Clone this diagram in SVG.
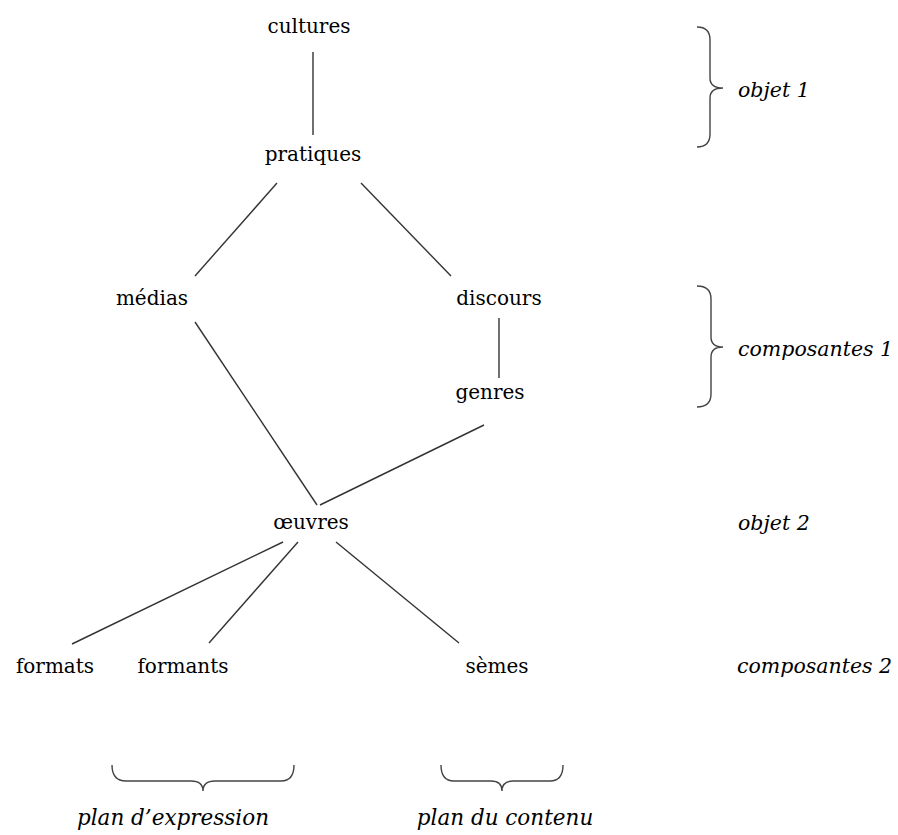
<svg xmlns="http://www.w3.org/2000/svg" width="898" height="835" viewBox="0 0 898 835">
<style>
.n{font-family:"DejaVu Serif","Liberation Serif",serif;font-size:20px;fill:#000;text-anchor:middle}
.l{font-family:"DejaVu Serif","Liberation Serif",serif;font-size:20.5px;font-style:italic;fill:#000}
.p{font-family:"DejaVu Serif","Liberation Serif",serif;font-size:21.5px;font-style:italic;fill:#000;text-anchor:middle}
.c{stroke:#333;stroke-width:1.4;fill:none}
.b{stroke:#444;stroke-width:1.4;fill:none}
</style>
<rect width="898" height="835" fill="#fff"/>
<g id="connectors">
<line class="c" x1="313" y1="52" x2="313" y2="135"/>
<line class="c" x1="277" y1="183" x2="195" y2="276"/>
<line class="c" x1="361" y1="183" x2="451" y2="276"/>
<line class="c" x1="499" y1="318" x2="499" y2="378"/>
<line class="c" x1="195" y1="322" x2="317" y2="505"/>
<line class="c" x1="484" y1="425" x2="320" y2="505"/>
<line class="c" x1="283" y1="542" x2="72" y2="644"/>
<line class="c" x1="298" y1="542" x2="209" y2="643"/>
<line class="c" x1="336" y1="542" x2="459" y2="643"/>
</g>
<g id="cultures"><text class="n" x="309" y="33">cultures</text></g>
<g id="pratiques"><text class="n" x="313" y="161">pratiques</text></g>
<g id="medias"><text class="n" x="152" y="305">médias</text></g>
<g id="discours"><text class="n" x="499" y="305">discours</text></g>
<g id="genres"><text class="n" x="490" y="399">genres</text></g>
<g id="oeuvres"><text class="n" x="311" y="529">œuvres</text></g>
<g id="formats"><text class="n" x="55" y="673">formats</text></g>
<g id="formants"><text class="n" x="183" y="673">formants</text></g>
<g id="semes"><text class="n" x="497" y="673">sèmes</text></g>
<g id="brace-objet1">
<path class="b" d="M697,27 Q710,27 710,40 L710,78 Q710,88 723,88 Q710,88 710,98 L710,134 Q710,147 697,147"/>
<text class="l" x="738" y="97">objet 1</text>
</g>
<g id="brace-composantes1">
<path class="b" d="M697,286 Q711,286 711,299 L711,337 Q711,347 723,347 Q711,347 711,357 L711,394 Q711,407 697,407"/>
<text class="l" x="738" y="356">composantes 1</text>
</g>
<g id="label-objet2"><text class="l" x="738" y="530">objet 2</text></g>
<g id="label-composantes2"><text class="l" x="737" y="673">composantes 2</text></g>
<g id="brace-expression">
<path class="b" d="M112,765 Q112,781 126,781 L191,781 Q203,781 203,791 Q203,781 215,781 L281,781 Q294,781 294,765"/>
<text class="p" x="173" y="825">plan d’expression</text>
</g>
<g id="brace-contenu">
<path class="b" d="M441,765 Q441,781 454,781 L491,781 Q502,781 502,791 Q502,781 513,781 L550,781 Q563,781 563,765"/>
<text class="p" x="505" y="825">plan du contenu</text>
</g>
</svg>
